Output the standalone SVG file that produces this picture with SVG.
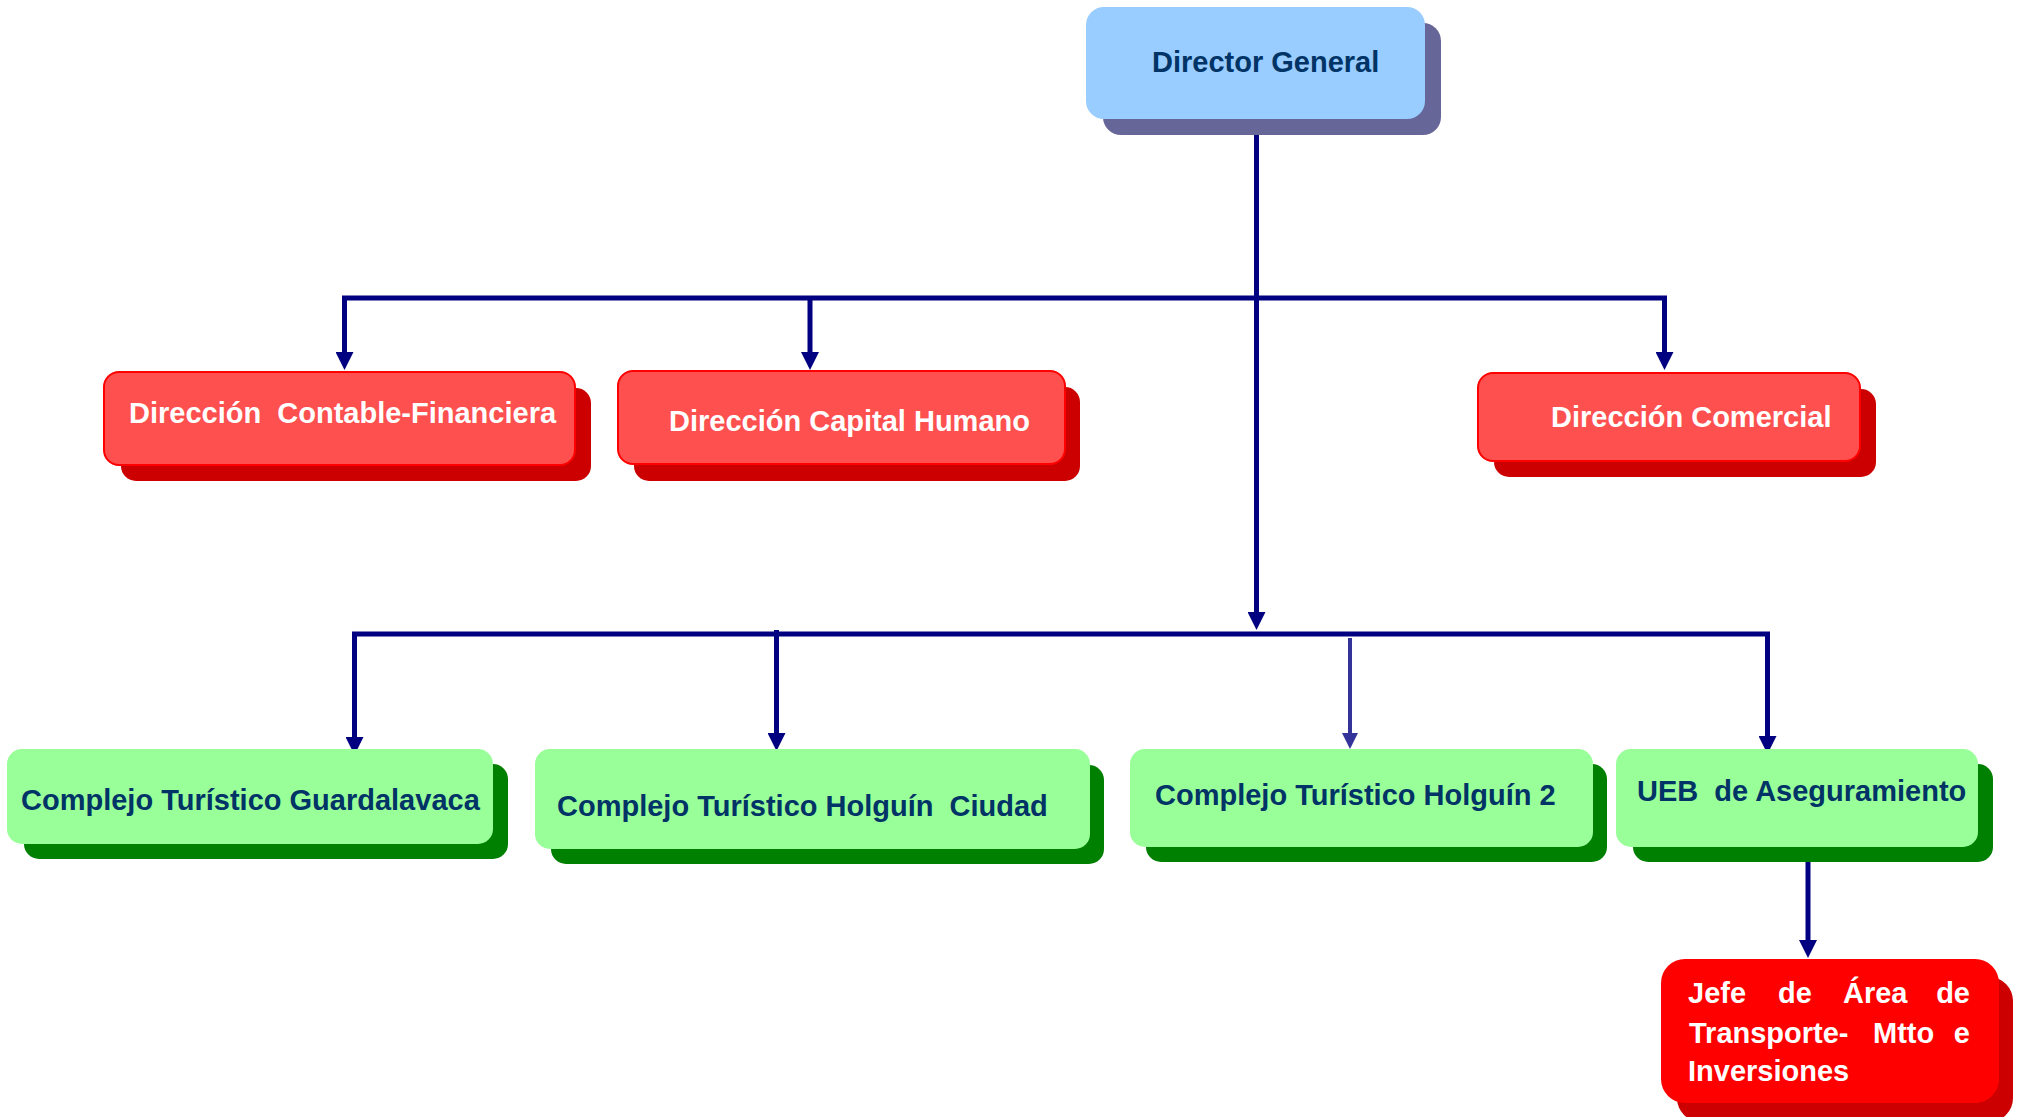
<svg xmlns="http://www.w3.org/2000/svg" width="2023" height="1117" viewBox="0 0 2023 1117">
<style>
text{font-family:"Liberation Sans",Arial,sans-serif;font-weight:bold;font-size:29px}
.dk{fill:#003366}
.wt{fill:#FFFFFF}
.blue{fill:#99CCFF}
.blueS{fill:#666699}
.red{fill:#FF5050;stroke:#FF0000;stroke-width:2}
.redS{fill:#CC0000}
.grn{fill:#99FF99}
.grnS{fill:#008000}
.jefe{fill:#FF0000}
.ln{stroke:#000080;stroke-width:5;fill:none}
.arr{stroke:#000080;stroke-width:5;fill:none;marker-end:url(#ah)}
.arrThin{stroke:#333399;stroke-width:4;fill:none;marker-end:url(#ah2)}
</style>
<defs>
<marker id="ah" markerUnits="userSpaceOnUse" markerWidth="18" markerHeight="18" viewBox="0 0 16 16" refX="8" refY="8" orient="auto">
<path d="M0,0 L16,8 L0,16 z" fill="#000080"/>
</marker>
<marker id="ah2" markerUnits="userSpaceOnUse" markerWidth="16" markerHeight="16" viewBox="0 0 16 16" refX="8" refY="8" orient="auto">
<path d="M0,0 L16,8 L0,16 z" fill="#333399"/>
</marker>
</defs>
<rect width="2023" height="1117" fill="#FFFFFF"/>

<g id="connectors">
<path class="ln" d="M342,298 H1667"/>
<path class="arr" d="M344.5,296 V361"/>
<path class="arr" d="M810,298 V361"/>
<path class="arr" d="M1664.5,296 V361"/>
<path class="arr" d="M1256.5,120 V621"/>
<path class="ln" d="M352,634 H1770"/>
<path class="arr" d="M354.5,632 V746"/>
<path class="arr" d="M776.5,630 V742"/>
<path class="arrThin" d="M1350,638 V741"/>
<path class="arr" d="M1767.5,632 V745"/>
<path class="arr" d="M1808,862 V949"/>
</g>

<g id="director-general">
<rect class="blueS" x="1103" y="23" width="338" height="112" rx="18"/>
<rect class="blue" x="1086" y="7" width="339" height="112" rx="18"/>
<text class="dk" x="1152" y="72">Director General</text>
</g>

<g id="direccion-contable">
<rect class="redS" x="121" y="388" width="470" height="93" rx="15"/>
<rect class="red" x="104" y="372" width="471" height="93" rx="15"/>
<text class="wt" x="129" y="423" xml:space="preserve">Dirección  Contable-Financiera</text>
</g>

<g id="direccion-capital-humano">
<rect class="redS" x="634" y="387" width="446" height="94" rx="15"/>
<rect class="red" x="618" y="371" width="447" height="93" rx="15"/>
<text class="wt" x="669" y="431">Dirección Capital Humano</text>
</g>

<g id="direccion-comercial">
<rect class="redS" x="1494" y="389" width="382" height="88" rx="15"/>
<rect class="red" x="1478" y="373" width="382" height="88" rx="15"/>
<text class="wt" x="1551" y="427">Dirección Comercial</text>
</g>

<g id="complejo-guardalavaca">
<rect class="grnS" x="24" y="764" width="484" height="95" rx="15"/>
<rect class="grn" x="7" y="749" width="486" height="95" rx="15"/>
<text class="dk" x="21" y="810">Complejo Turístico Guardalavaca</text>
</g>

<g id="complejo-holguin-ciudad">
<rect class="grnS" x="551" y="765" width="553" height="99" rx="15"/>
<rect class="grn" x="535" y="749" width="555" height="100" rx="15"/>
<text class="dk" x="557" y="816" xml:space="preserve">Complejo Turístico Holguín  Ciudad</text>
</g>

<g id="complejo-holguin-2">
<rect class="grnS" x="1146" y="764" width="461" height="98" rx="15"/>
<rect class="grn" x="1130" y="749" width="463" height="98" rx="15"/>
<text class="dk" x="1155" y="805">Complejo Turístico Holguín 2</text>
</g>

<g id="ueb-aseguramiento">
<rect class="grnS" x="1633" y="764" width="360" height="98" rx="15"/>
<rect class="grn" x="1616" y="749" width="362" height="98" rx="15"/>
<text class="dk" x="1637" y="801" xml:space="preserve">UEB  de Aseguramiento</text>
</g>

<g id="jefe-area-transporte">
<rect class="redS" x="1677" y="977" width="336" height="145" rx="24"/>
<rect class="jefe" x="1661" y="959" width="338" height="144" rx="24"/>
<text class="wt" y="1003"><tspan x="1688">Jefe</tspan><tspan x="1778">de</tspan><tspan x="1843">Área</tspan><tspan x="1970" text-anchor="end">de</tspan></text>
<text class="wt" y="1043"><tspan x="1689">Transporte-</tspan><tspan x="1873">Mtto</tspan><tspan x="1970" text-anchor="end">e</tspan></text>
<text class="wt" x="1688" y="1081">Inversiones</text>
</g>
</svg>
